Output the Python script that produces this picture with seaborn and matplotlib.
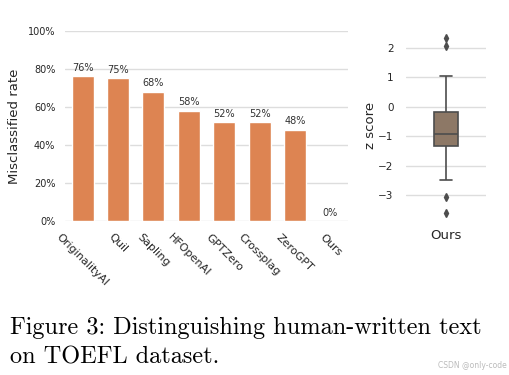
"""Misclassified rate per detector plus z score box for our method."""

import matplotlib

matplotlib.use("Agg")
import matplotlib.pyplot as plt
from matplotlib.ticker import PercentFormatter
import seaborn as sns

# Bar chart values
tools = ["OriginalityAI", "Quil", "Sapling", "HFOpenAI", "GPTZero",
         "Crossplag", "ZeroGPT", "Ours"]
misclassified = [0.76, 0.75, 0.68, 0.58, 0.52, 0.52, 0.48, 0.0]

# z scores of our method (read from the box: quartiles, whiskers, outliers)
z_scores = [-3.6, -3.06, -2.5, -1.9, -1.5, -1.32, -1.2, -1.1, -1.02, -0.95,
            -0.91, -0.8, -0.6, -0.45, -0.3, -0.19, 0.1, 0.5, 1.03, 2.07, 2.34]
box_label = ["Ours"] * len(z_scores)

caption_lines = ["Figure 3: Distinguishing human-written text",
                 "on TOEFL dataset."]

sns.set_theme(style="whitegrid")
plt.rcParams["grid.color"] = "#dddddd"

W, H = 510, 375
fig = plt.figure(figsize=(W / 100, H / 100), dpi=100)


def px_axes(x0, y0, x1, y1):
    return fig.add_axes([x0 / W, 1 - y1 / H, (x1 - x0) / W, (y1 - y0) / H])


# ---------------- left: bars ----------------
ax = px_axes(65, 30.7, 348, 221)
sns.barplot(x=tools, y=misclassified, color="#DD8452", saturation=1,
            width=0.62, ax=ax)
ax.set_xlim(-0.5, 7.5)
ax.set_ylim(0, 1.0)
ax.set_yticks([0, 0.2, 0.4, 0.6, 0.8, 1.0])
ax.yaxis.set_major_formatter(PercentFormatter(1, decimals=0))
ax.set_ylabel("Misclassified rate", fontsize=9.5, labelpad=5)
ax.tick_params(axis="y", labelsize=7, pad=7, length=0)
ax.tick_params(axis="x", labelsize=8, pad=8, length=0)
plt.setp(ax.get_xticklabels(), rotation=-45, ha="center")
ax.grid(axis="x", visible=False)
for c in ax.containers:
    ax.bar_label(c, labels=[f"{v * 100:.0f}%" for v in misclassified],
                 fontsize=7, padding=2.5, color=".2")
sns.despine(ax=ax, left=True, bottom=True)

# ---------------- right: box ----------------
bx = px_axes(406, 30.7, 486, 221)
flier = {"marker": "d", "markerfacecolor": ".3", "markeredgecolor": ".3"}
sns.boxplot(x=box_label, y=z_scores, color="#937860", width=0.31,
            linecolor=".3", linewidth=1.2, fliersize=4, flierprops=flier,
            ax=bx)
bx.set_xlim(-0.5, 0.5)
bx.set_ylim(-3.88, 2.58)
bx.set_yticks([-3, -2, -1, 0, 1, 2])
bx.set_ylabel("z score", fontsize=9.5, labelpad=1)
bx.tick_params(axis="y", labelsize=7.5, pad=9, length=0)
bx.tick_params(axis="x", labelsize=9.5, pad=6, length=0)
bx.grid(axis="x", visible=False)
sns.despine(ax=bx, left=True, bottom=True)

# ---------------- caption ----------------
for i, line in enumerate(caption_lines):
    fig.text(10 / W, 1 - (317 + 29 * i) / H, line, family="cmr10",
             fontsize=17.5, va="top", ha="left", color="black")
fig.text(507 / W, 1 - 365 / H, "CSDN @only-code", fontsize=5.5,
         color="#bbbbbb", ha="right", va="center")

fig.savefig("out.png", dpi=100)
